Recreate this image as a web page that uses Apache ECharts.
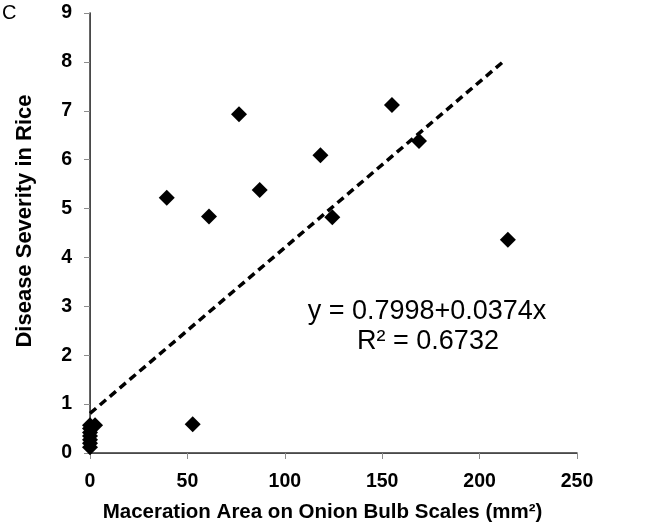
<!DOCTYPE html>
<html>
<head>
<meta charset="utf-8">
<script src="https://cdn.jsdelivr.net/npm/echarts@6/dist/echarts.min.js"></script>
<style>
html,body{margin:0;padding:0;background:#fff;}
#chart{width:654px;height:525px;}
</style>
</head>
<body>
<div id="chart"></div>
<script>
// Observed points (maceration area mm², disease severity)
const macerationArea = [39.4, 61.1, 76.5, 87.1, 118.3, 124.4, 155, 168.9, 214.5, 52.7, 2.6, 0, 0, 0, 0, 0, 0, 0];
const diseaseSeverity = [5.22, 4.84, 6.93, 5.38, 6.09, 4.82, 7.12, 6.38, 4.36, 0.59, 0.57, 0.12, 0.2, 0.27, 0.35, 0.42, 0.5, 0.57];
// Trend line endpoints as drawn in the figure
const trendX = [0, 212];
const trendY = [0.81, 8.0];
const xTicks = [0, 50, 100, 150, 200, 250];
const yTicks = [0, 1, 2, 3, 4, 5, 6, 7, 8, 9];
const equationText = 'y = 0.7998+0.0374x';
const r2Text = 'R\u00B2 = 0.6732';

const points = macerationArea.map((x, i) => [x, diseaseSeverity[i]]);
const trend = trendX.map((x, i) => [x, trendY[i]]);

const chart = echarts.init(document.getElementById('chart'));
const font = 'Liberation Sans, Arial, sans-serif';
chart.setOption({
  animation: false,
  grid: {left: 90, right: 77, top: 13, bottom: 72, containLabel: false, outerBoundsMode: 'none'},
  xAxis: [{
    type: 'value', min: xTicks[0], max: xTicks[xTicks.length - 1], interval: 50,
    splitLine: {show: false},
    axisLine: {lineStyle: {color: '#8c8c8c', width: 1}},
    axisTick: {length: 6, lineStyle: {color: '#8c8c8c'}},
    axisLabel: {margin: 19, color: '#000', fontSize: 19.5, fontWeight: 'bold', fontFamily: font},
    name: 'Maceration Area on Onion Bulb Scales (mm\u00B2)',
    nameLocation: 'middle', nameGap: 49,
    nameTextStyle: {color: '#000', fontSize: 20.5, fontWeight: 'bold', fontFamily: font, padding: [0, 22, 0, 0]}
  }, {
    type: 'value', position: 'top', min: 0, max: 250,
    axisLine: {show: true, lineStyle: {color: '#333', width: 1.5}},
    axisTick: {show: false}, axisLabel: {show: false}, splitLine: {show: false}
  }],
  yAxis: [{
    type: 'value', min: yTicks[0], max: yTicks[yTicks.length - 1], interval: 1,
    splitLine: {show: false},
    axisLine: {show: true, lineStyle: {color: '#8c8c8c', width: 1}},
    axisTick: {show: true, length: 6, lineStyle: {color: '#8c8c8c'}},
    axisLabel: {margin: 18, color: '#000', fontSize: 19.5, fontWeight: 'bold', fontFamily: font},
    name: 'Disease Severity in Rice',
    nameLocation: 'middle', nameGap: 54, nameRotate: 90,
    nameTextStyle: {color: '#000', fontSize: 22, fontWeight: 'bold', fontFamily: font, padding: [0, 0, 0, 24]}
  }, {
    type: 'value', position: 'right', min: 0, max: 9,
    axisLine: {show: true, lineStyle: {color: '#333', width: 1.5}},
    axisTick: {show: false}, axisLabel: {show: false}, splitLine: {show: false}
  }],
  series: [{
    type: 'line', data: trend, showSymbol: false, symbol: 'none',
    lineStyle: {color: '#000', width: 3.5, type: [8, 5]}, z: 2
  }, {
    type: 'scatter', data: points, symbol: 'diamond', symbolSize: 16,
    itemStyle: {color: '#000', opacity: 1}, z: 3
  }],
  graphic: [
    {type: 'text', left: 2, top: 3, style: {text: 'C', fontSize: 20, fontFamily: font, fill: '#000'}},
    {type: 'text', x: 427, y: 312, style: {text: equationText, fontSize: 27, fontFamily: font, fill: '#000', align: 'center', verticalAlign: 'middle'}},
    {type: 'text', x: 428, y: 342, style: {text: r2Text, fontSize: 27, fontFamily: font, fill: '#000', align: 'center', verticalAlign: 'middle'}}
  ]
});
</script>
</body>
</html>
